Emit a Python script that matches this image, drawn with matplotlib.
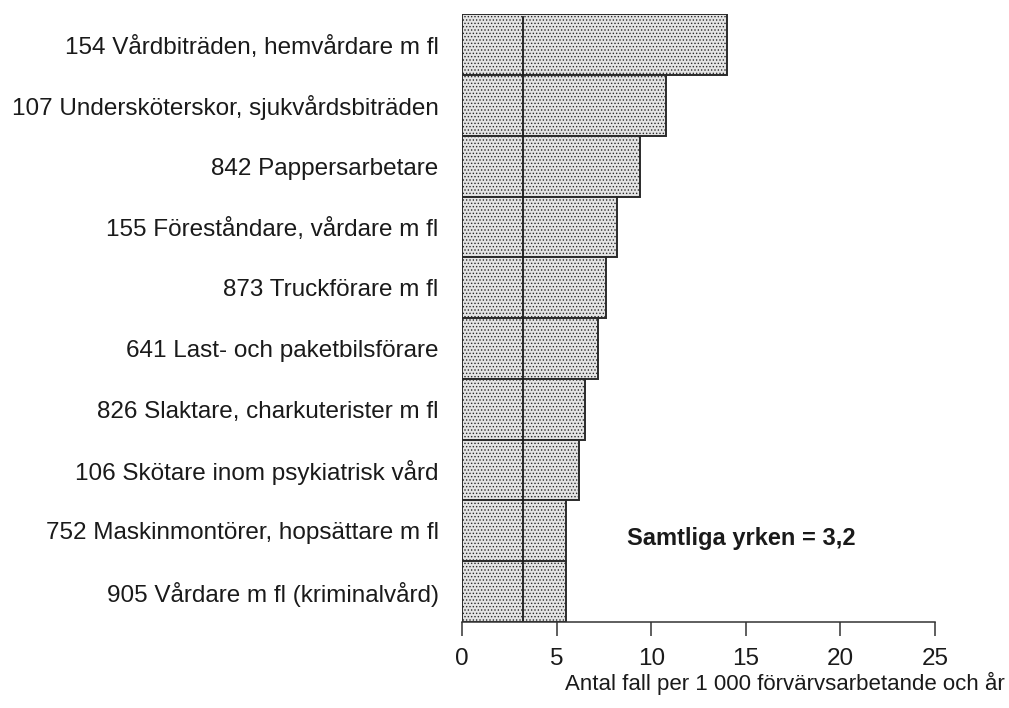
import matplotlib
matplotlib.use("Agg")
import matplotlib.pyplot as plt
import numpy as np

plt.rcParams['font.family'] = ['Liberation Sans', 'DejaVu Sans']
plt.rcParams['hatch.color'] = '#a8a8a8'
plt.rcParams['hatch.linewidth'] = 0.6

# occupations and rate per 1000 workers and year
yrken = [
    "154 Vårdbiträden, hemvårdare m fl",
    "107 Undersköterskor, sjukvårdsbiträden",
    "842 Pappersarbetare",
    "155 Föreståndare, vårdare m fl",
    "873 Truckförare m fl",
    "641 Last- och paketbilsförare",
    "826 Slaktare, charkuterister m fl",
    "106 Skötare inom psykiatrisk vård",
    "752 Maskinmontörer, hopsättare m fl",
    "905 Vårdare m fl (kriminalvård)",
]
varden = [14.0, 10.8, 9.4, 8.2, 7.6, 7.2, 6.5, 6.2, 5.5, 5.5]
samtliga = 3.2
xticks = [0, 5, 10, 15, 20, 25]

fig = plt.figure(figsize=(10.09, 7.08), dpi=100)
ax = fig.add_axes([0.458, 0.1215, 0.4687, 0.8585])

pos = np.arange(len(yrken))
ax.barh(pos, varden, height=1.0, color='#e4e4e4', edgecolor='#2a2a2a',
        linewidth=1.4, hatch='.....')
ax.plot([samtliga, samtliga], [-0.45, len(yrken) - 0.5], color='#1a1a1a', lw=1.3)

ax.set_xlim(0, 25)
ax.set_ylim(len(yrken) - 0.5, -0.5)
ax.set_yticks(pos)
ax.set_yticklabels(yrken, fontsize=17.5, color='#1a1a1a')
ax.tick_params(axis='y', length=0, pad=17)
ax.set_xticks(xticks)
ax.set_xticklabels([str(t) for t in xticks], fontsize=17.5, color='#1a1a1a')
ax.tick_params(axis='x', direction='out', length=10, width=1.1, pad=9,
               color='#333333')

for s in ['top', 'right', 'left']:
    ax.spines[s].set_visible(False)
ax.spines['bottom'].set_color('#333333')
ax.spines['bottom'].set_linewidth(1.1)

ax.text(8.7, 8.12, "Samtliga yrken = 3,2", fontsize=17, fontweight='bold',
        va='center', ha='left', color='#1a1a1a')

fig.text(0.996, 0.035, "Antal fall per 1 000 förvärvsarbetande och år",
         ha='right', va='center', fontsize=16, color='#1a1a1a')

fig.savefig("out.png", dpi=100)
